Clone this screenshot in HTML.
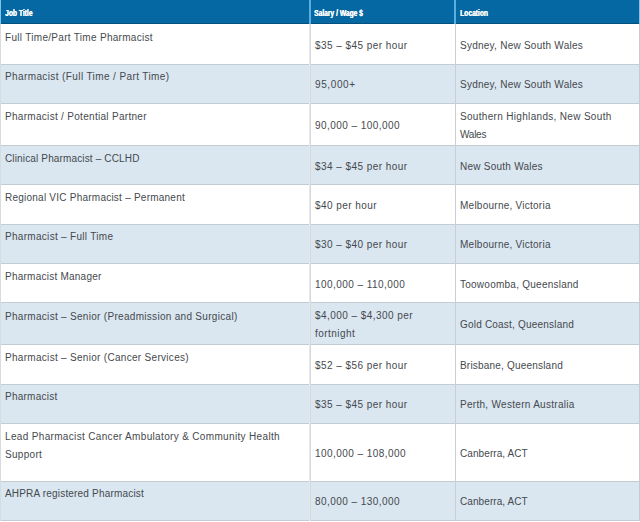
<!DOCTYPE html>
<html><head><meta charset="utf-8"><style>
html,body{margin:0;padding:0;background:#fff;width:640px;height:522px;overflow:hidden;position:relative}
div{position:absolute}
.t{white-space:nowrap;font-family:"Liberation Sans",sans-serif;font-size:10px;line-height:18px;letter-spacing:0.3px;color:#45494e}
.h{white-space:nowrap;font-family:"Liberation Sans",sans-serif;font-weight:bold;font-size:8.8px;line-height:10px;color:#fff;transform-origin:0 0;transform:scaleX(0.76);text-shadow:0.35px 0 0 #fff}
.hl{left:0;width:640px;height:1px;background:#c3cbd3}
</style></head><body>
<div style="left:0;top:0;width:640px;height:24px;background:#0568a3"></div>
<div style="left:0;top:23px;width:640px;height:1px;background:#02507e"></div>
<div style="left:0;top:0;width:1px;height:24px;background:#7ec3ea"></div>
<div style="left:639px;top:0;width:1px;height:24px;background:#7ec3ea"></div>
<div style="left:309px;top:0;width:2px;height:24px;background:#5aaee0"></div>
<div style="left:454px;top:0;width:2px;height:24px;background:#5aaee0"></div>
<div class="h" style="left:5px;top:8px">Job Title</div>
<div class="h" style="left:314px;top:8px">Salary / Wage $</div>
<div class="h" style="left:460px;top:8px">Location</div>
<div style="left:0;top:24px;width:640px;height:40px;background:#ffffff"></div>
<div class="t" style="left:5px;top:29px;letter-spacing:0.300px">Full Time/Part Time Pharmacist</div>
<div class="t" style="left:315px;top:37px;letter-spacing:0.450px">$35 – $45 per hour</div>
<div class="t" style="left:460px;top:37px;letter-spacing:0.250px">Sydney, New South Wales</div>
<div style="left:0;top:64px;width:640px;height:39px;background:#dae6f0"></div>
<div class="hl" style="top:64px"></div>
<div class="t" style="left:5px;top:68px;letter-spacing:0.391px">Pharmacist (Full Time / Part Time)</div>
<div class="t" style="left:315px;top:76px;letter-spacing:0.617px">95,000+</div>
<div class="t" style="left:460px;top:76px;letter-spacing:0.250px">Sydney, New South Wales</div>
<div style="left:0;top:103px;width:640px;height:42px;background:#ffffff"></div>
<div class="hl" style="top:103px"></div>
<div class="t" style="left:5px;top:108px;letter-spacing:0.300px">Pharmacist / Potential Partner</div>
<div class="t" style="left:315px;top:117px;letter-spacing:0.450px">90,000 – 100,000</div>
<div class="t" style="left:460px;top:108px;letter-spacing:0.321px">Southern Highlands, New South</div>
<div class="t" style="left:460px;top:126px;letter-spacing:-0.250px">Wales</div>
<div style="left:0;top:145px;width:640px;height:39px;background:#dae6f0"></div>
<div class="hl" style="top:145px"></div>
<div class="t" style="left:5px;top:150px;letter-spacing:0.146px">Clinical Pharmacist – CCLHD</div>
<div class="t" style="left:315px;top:158px;letter-spacing:0.450px">$34 – $45 per hour</div>
<div class="t" style="left:460px;top:158px;letter-spacing:0.250px">New South Wales</div>
<div style="left:0;top:184px;width:640px;height:40px;background:#ffffff"></div>
<div class="hl" style="top:184px"></div>
<div class="t" style="left:5px;top:189px;letter-spacing:0.235px">Regional VIC Pharmacist – Permanent</div>
<div class="t" style="left:315px;top:197px;letter-spacing:0.450px">$40 per hour</div>
<div class="t" style="left:460px;top:197px;letter-spacing:0.250px">Melbourne, Victoria</div>
<div style="left:0;top:224px;width:640px;height:39px;background:#dae6f0"></div>
<div class="hl" style="top:224px"></div>
<div class="t" style="left:5px;top:228px;letter-spacing:0.300px">Pharmacist – Full Time</div>
<div class="t" style="left:315px;top:236px;letter-spacing:0.450px">$30 – $40 per hour</div>
<div class="t" style="left:460px;top:236px;letter-spacing:0.250px">Melbourne, Victoria</div>
<div style="left:0;top:263px;width:640px;height:39px;background:#ffffff"></div>
<div class="hl" style="top:263px"></div>
<div class="t" style="left:5px;top:268px;letter-spacing:0.241px">Pharmacist Manager</div>
<div class="t" style="left:315px;top:276px;letter-spacing:0.450px">100,000 – 110,000</div>
<div class="t" style="left:460px;top:276px;letter-spacing:0.250px">Toowoomba, Queensland</div>
<div style="left:0;top:302px;width:640px;height:42px;background:#dae6f0"></div>
<div class="hl" style="top:302px"></div>
<div class="t" style="left:5px;top:308px;letter-spacing:0.300px">Pharmacist – Senior (Preadmission and Surgical)</div>
<div class="t" style="left:315px;top:307px;letter-spacing:0.450px">$4,000 – $4,300 per</div>
<div class="t" style="left:315px;top:325px;letter-spacing:0.450px">fortnight</div>
<div class="t" style="left:460px;top:316px;letter-spacing:0.202px">Gold Coast, Queensland</div>
<div style="left:0;top:344px;width:640px;height:40px;background:#ffffff"></div>
<div class="hl" style="top:344px"></div>
<div class="t" style="left:5px;top:349px;letter-spacing:0.300px">Pharmacist – Senior (Cancer Services)</div>
<div class="t" style="left:315px;top:357px;letter-spacing:0.450px">$52 – $56 per hour</div>
<div class="t" style="left:460px;top:357px;letter-spacing:0.197px">Brisbane, Queensland</div>
<div style="left:0;top:384px;width:640px;height:39px;background:#dae6f0"></div>
<div class="hl" style="top:384px"></div>
<div class="t" style="left:5px;top:388px;letter-spacing:0.244px">Pharmacist</div>
<div class="t" style="left:315px;top:396px;letter-spacing:0.450px">$35 – $45 per hour</div>
<div class="t" style="left:460px;top:396px;letter-spacing:0.293px">Perth, Western Australia</div>
<div style="left:0;top:423px;width:640px;height:58px;background:#ffffff"></div>
<div class="hl" style="top:423px"></div>
<div class="t" style="left:5px;top:428px;letter-spacing:0.339px">Lead Pharmacist Cancer Ambulatory &amp; Community Health</div>
<div class="t" style="left:5px;top:446px;letter-spacing:0.300px">Support</div>
<div class="t" style="left:315px;top:445px;letter-spacing:0.450px">100,000 – 108,000</div>
<div class="t" style="left:460px;top:445px;letter-spacing:0.083px">Canberra, ACT</div>
<div style="left:0;top:481px;width:640px;height:39px;background:#dae6f0"></div>
<div class="hl" style="top:481px"></div>
<div class="t" style="left:5px;top:485px;letter-spacing:0.185px">AHPRA registered Pharmacist</div>
<div class="t" style="left:315px;top:493px;letter-spacing:0.450px">80,000 – 130,000</div>
<div class="t" style="left:460px;top:493px;letter-spacing:0.083px">Canberra, ACT</div>
<div class="hl" style="top:520px"></div>
<div style="left:0;top:24px;width:1px;height:497px;background:#d5dce2"></div>
<div style="left:309px;top:24px;width:1px;height:497px;background:#e6e9ec"></div><div style="left:310px;top:24px;width:1px;height:497px;background:#d3d8dd"></div>
<div style="left:455px;top:24px;width:1px;height:497px;background:#c9cfd5"></div>
<div style="left:639px;top:24px;width:1px;height:497px;background:#c3cbd3"></div>
</body></html>
